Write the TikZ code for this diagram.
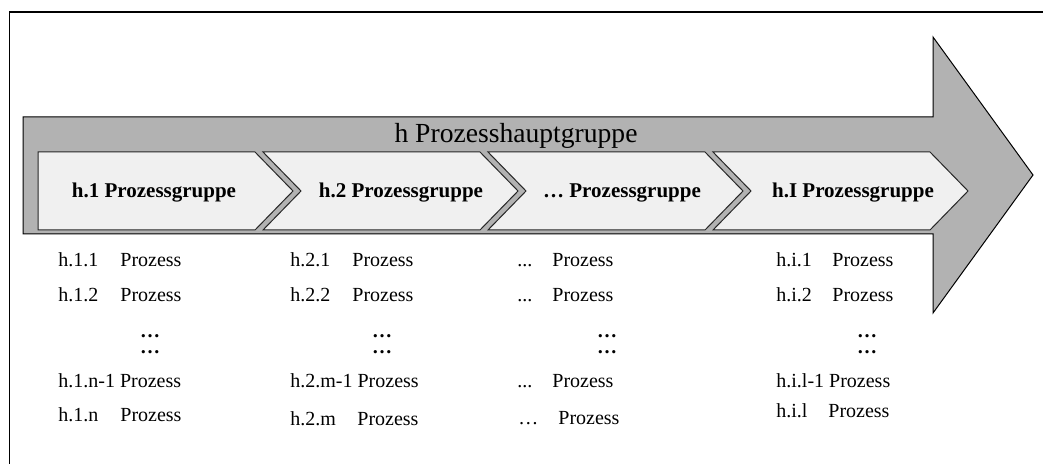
\documentclass[tikz,border=0pt]{standalone}
\usepackage{fontspec}
\setmainfont{Liberation Serif}
\usepackage{xcolor}
\usepackage{tikz}

\begin{document}
\begin{tikzpicture}[x=0.5pt,y=-0.5pt,
		pfeil/.style={draw=black, fill=black!30, line width=0.5pt},
		kette/.style={draw=black!85, fill=black!6, line width=0.5pt},
		gruppe/.style={font=\fontsize{10.5}{12}\selectfont\bfseries, inner sep=0pt, anchor=base},
		eintrag/.style={font=\fontsize{10}{12}\selectfont, inner sep=0pt, anchor=base west},
		punkte/.style={font=\fontsize{10}{12}\selectfont\bfseries, inner sep=0pt, anchor=base}]
				\useasboundingbox (0,0) rectangle (1043,464);
				% frame (open to the right and bottom)
				\draw[line width=0.6pt] (1043,12) -- (9.5,12) -- (9.5,464);
				
				% main arrow
				\draw[pfeil] (23,117) -- (933,117) -- (933,37) -- (1033,175)
					-- (933,313) -- (933,234) -- (23,234) -- cycle;
				\node[font=\fontsize{13.8}{16}\selectfont, inner sep=0pt, anchor=base]
					(haupt) at (516,143) {h Prozesshauptgruppe};
				
				% process groups
				\draw[kette] (38,152) -- (255,152) -- (293,191) -- (255,230) -- (38,230) -- cycle;
				\foreach \x in {263, 488, 713}{
					\draw[kette] (\x,152) -- ++(217,0) -- ++(38,39) -- ++(-38,39)
						-- ++(-217,0) -- ++(38,-39) -- cycle;
				}
				\foreach \n/\x/\t in
				{1/154/h.1, 2/401/h.2, 3/622/…, 4/853/h.I}{
					\node[gruppe] (g\n) at (\x,198) {\t\ Prozessgruppe};
				}
				
				% column 1
				\node[eintrag] (p11) at (58,267) {h.1.1};   \node[eintrag] (q11) at (120,267) {Prozess};
				\node[eintrag] (p12) at (58,302) {h.1.2};   \node[eintrag] (q12) at (120,302) {Prozess};
				\node[eintrag] (p13) at (58,387) {h.1.n-1 Prozess};
				\node[eintrag] (p14) at (58,422) {h.1.n};   \node[eintrag] (q14) at (120,422) {Prozess};
				
				% column 2
				\node[eintrag] (p21) at (290,267) {h.2.1};  \node[eintrag] (q21) at (352,267) {Prozess};
				\node[eintrag] (p22) at (290,302) {h.2.2};  \node[eintrag] (q22) at (352,302) {Prozess};
				\node[eintrag] (p23) at (290,387) {h.2.m-1 Prozess};
				\node[eintrag] (p24) at (290,425) {h.2.m};  \node[eintrag] (q24) at (357,425) {Prozess};
				
				% column 3
				\node[eintrag] (p31) at (517,267) {...};    \node[eintrag] (q31) at (552,267) {Prozess};
				\node[eintrag] (p32) at (517,302) {...};    \node[eintrag] (q32) at (552,302) {Prozess};
				\node[eintrag] (p33) at (517,387) {...};    \node[eintrag] (q33) at (552,387) {Prozess};
				\node[eintrag] (p34) at (518,424) {…};      \node[eintrag] (q34) at (558,424) {Prozess};
				
				% column 4
				\node[eintrag] (p41) at (776,267) {h.i.1};  \node[eintrag] (q41) at (832,267) {Prozess};
				\node[eintrag] (p42) at (776,302) {h.i.2};  \node[eintrag] (q42) at (832,302) {Prozess};
				\node[eintrag] (p43) at (776,387) {h.i.l-1 Prozess};
				\node[eintrag] (p44) at (776,417) {h.i.l};  \node[eintrag] (q44) at (828,417) {Prozess};
				
				% omitted entries
				\foreach \n/\x in
				{1/150, 2/382, 3/607, 4/867}{
					\node[punkte] (d\n a) at (\x,337) {…};
					\node[punkte] (d\n b) at (\x,354) {…};
				}
			\end{tikzpicture}
\end{document}
